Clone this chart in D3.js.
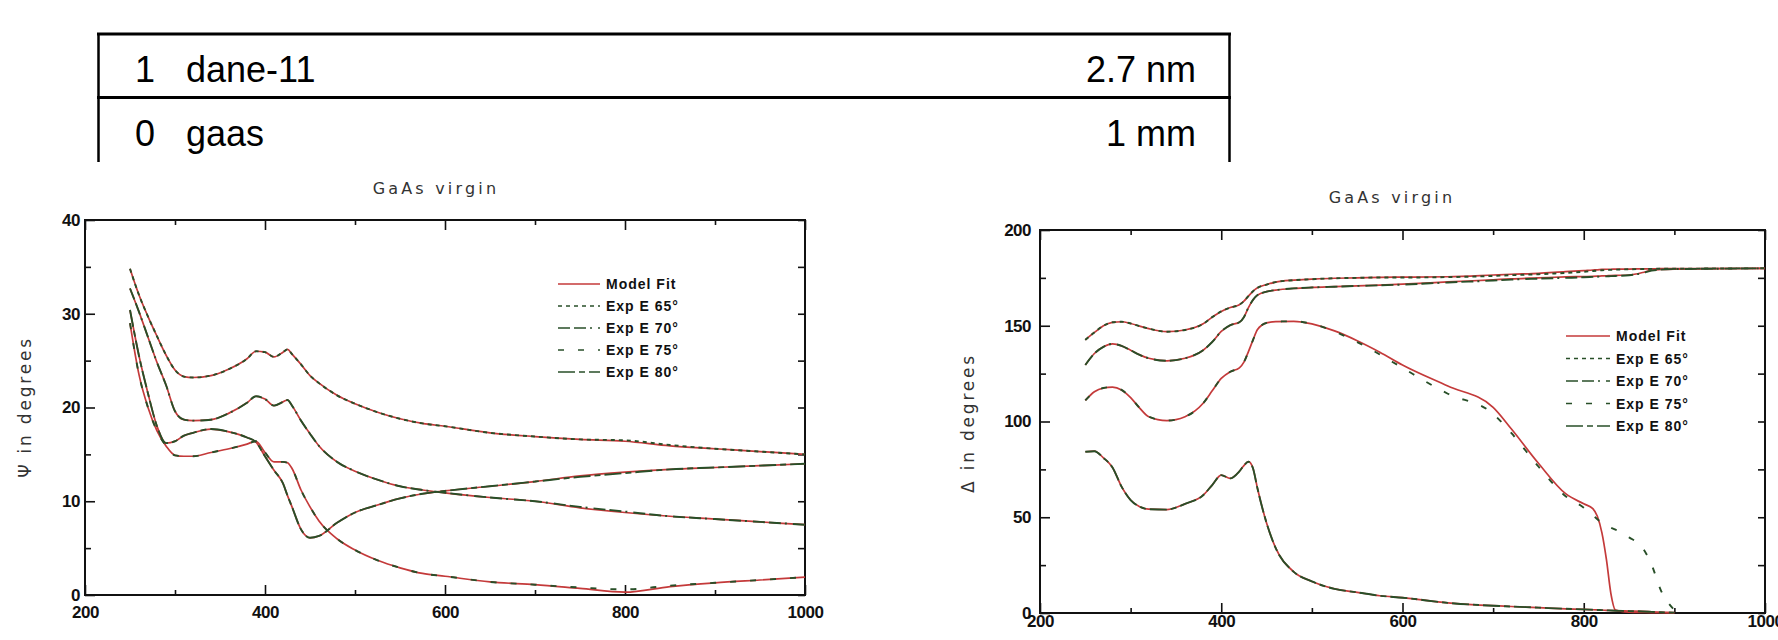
<!DOCTYPE html>
<html>
<head>
<meta charset="utf-8">
<script src="https://cdn.jsdelivr.net/npm/d3@7"></script>
<style>
  body { margin: 0; background: #fff; }
  svg { display: block; }
  .tick text { font-family: "Liberation Sans", Arial, sans-serif; font-weight: bold; font-size: 17px; fill: #111; letter-spacing: -0.5px; }
  .domain { display: none; }
  .tick line { stroke: #111; stroke-width: 1.6; }
  .plot-title, .axis-label { font-family: "DejaVu Sans", sans-serif; font-size: 16px; fill: #333; }
  .legend-text { font-family: "Liberation Sans", Arial, sans-serif; font-weight: bold; font-size: 14px; fill: #111; letter-spacing: 1px; }
  .layer-text { font-family: "Liberation Sans", Arial, sans-serif; font-size: 36px; fill: #000; }
</style>
</head>
<body>
<svg id="chart" width="1778" height="640"></svg>
<script>
// layer stack shown above the plots
const layerIndex = ['1', '0'];
const layerName = ['dane-11', 'gaas'];
const layerThickness = ['2.7 nm', '1 mm'];

// axis ticks
const xMajor = [200, 400, 600, 800, 1000];
const xMinor = [300, 500, 700, 900];
const psiTicks = [0, 10, 20, 30, 40];
const psiMinor = [5, 15, 25, 35];
const deltaTicks = [0, 50, 100, 150, 200];
const deltaMinor = [25, 75, 125, 175];

const legendLabels = ['Model Fit', 'Exp E 65°', 'Exp E 70°', 'Exp E 75°', 'Exp E 80°'];

// Psi (degrees) vs wavelength (nm)
const psiWavelength = [250, 260, 270, 280, 290, 300, 310, 320, 340, 360, 380, 390, 400, 410, 420, 425, 430, 440, 450, 460, 480, 500, 525, 550, 575, 600, 650, 700, 750, 800, 850, 900, 950, 1000];
const psiModel65 = [34.8, 32.0, 29.7, 27.6, 25.6, 24.0, 23.3, 23.2, 23.4, 24.1, 25.2, 26.0, 25.9, 25.4, 25.9, 26.2, 25.7, 24.6, 23.4, 22.6, 21.3, 20.4, 19.5, 18.8, 18.3, 18.0, 17.3, 16.9, 16.6, 16.4, 15.9, 15.6, 15.3, 15.0];
const psiModel70 = [32.7, 30.2, 27.5, 24.8, 22.4, 19.6, 18.7, 18.6, 18.7, 19.4, 20.5, 21.2, 20.9, 20.2, 20.6, 20.8, 20.2, 18.6, 17.2, 15.9, 14.2, 13.2, 12.3, 11.6, 11.2, 10.9, 10.4, 10.0, 9.3, 8.8, 8.4, 8.1, 7.8, 7.5];
const psiModel75 = [29.0, 23.5, 20.0, 17.5, 15.9, 14.9, 14.8, 14.8, 15.2, 15.6, 16.1, 16.4, 15.2, 14.2, 14.2, 14.1, 13.5, 11.2, 9.4, 7.9, 6.0, 4.8, 3.7, 2.9, 2.3, 2.0, 1.4, 1.1, 0.7, 0.3, 0.9, 1.3, 1.6, 1.9];
const psiModel80 = [30.4, 25.5, 21.5, 18.0, 16.2, 16.4, 17.0, 17.3, 17.7, 17.4, 16.8, 16.3, 14.8, 13.3, 11.9, 10.6, 9.4, 7.0, 6.1, 6.3, 7.7, 8.8, 9.6, 10.3, 10.8, 11.1, 11.6, 12.1, 12.7, 13.1, 13.4, 13.6, 13.8, 14.0];
const psiExp65 = [34.8, 32.0, 29.7, 27.6, 25.6, 24.0, 23.3, 23.2, 23.4, 24.1, 25.2, 26.0, 25.9, 25.4, 25.9, 26.2, 25.7, 24.6, 23.4, 22.6, 21.3, 20.4, 19.5, 18.8, 18.3, 18.0, 17.3, 16.9, 16.6, 16.5, 16.0, 15.6, 15.3, 15.0];
const psiExp70 = [32.7, 30.2, 27.5, 24.8, 22.4, 19.6, 18.7, 18.6, 18.7, 19.4, 20.5, 21.2, 20.9, 20.2, 20.6, 20.8, 20.2, 18.6, 17.2, 15.9, 14.2, 13.2, 12.3, 11.6, 11.2, 10.9, 10.4, 10.0, 9.4, 8.9, 8.4, 8.1, 7.8, 7.5];
const psiExp75 = [29.0, 23.5, 20.0, 17.5, 15.9, 14.9, 14.8, 14.8, 15.2, 15.6, 16.1, 16.4, 15.2, 14.2, 14.2, 14.1, 13.5, 11.2, 9.4, 7.9, 6.0, 4.8, 3.7, 2.9, 2.3, 2.0, 1.4, 1.1, 0.8, 0.6, 1.0, 1.3, 1.6, 1.9];
const psiExp80 = [30.4, 25.5, 21.5, 18.0, 16.2, 16.4, 17.0, 17.3, 17.7, 17.4, 16.8, 16.3, 14.8, 13.3, 11.9, 10.6, 9.4, 7.0, 6.1, 6.3, 7.7, 8.8, 9.6, 10.3, 10.8, 11.1, 11.6, 12.1, 12.6, 13.0, 13.4, 13.6, 13.8, 14.0];

// Delta (degrees) vs wavelength (nm)
const deltaWavelength = [250, 260, 270, 280, 290, 300, 310, 320, 340, 360, 380, 390, 400, 410, 420, 425, 430, 435, 440, 450, 460, 480, 500, 525, 550, 575, 600, 650, 700, 720, 750, 780, 800, 810, 815, 820, 825, 830, 835, 850, 865, 875, 885, 900, 950, 1000];
const deltaModel65 = [142.6, 146.5, 150.0, 151.8, 152.1, 151.2, 149.8, 148.5, 146.9, 147.8, 151.0, 154.5, 157.5, 159.5, 161.0, 162.8, 165.5, 168.0, 169.8, 171.5, 172.8, 173.8, 174.3, 174.8, 175.0, 175.3, 175.4, 175.6, 176.5, 176.9, 177.4, 178.3, 178.8, 179.1, 179.2, 179.4, 179.5, 179.5, 179.6, 179.6, 179.7, 179.7, 179.8, 179.8, 179.9, 180.0];
const deltaModel70 = [129.5, 135.5, 139.0, 140.5, 139.5, 137.2, 134.8, 133.0, 131.7, 133.0, 137.2, 141.5, 147.0, 150.3, 151.8, 154.5, 159.5, 163.5, 166.0, 167.8, 168.6, 169.5, 170.0, 170.4, 170.8, 171.2, 171.7, 172.9, 174.0, 174.5, 175.0, 175.5, 175.7, 175.8, 175.9, 176.0, 176.1, 176.2, 176.3, 176.5, 177.8, 179.1, 179.4, 179.6, 179.8, 180.0];
const deltaModel75 = [111.0, 115.5, 117.5, 118.0, 116.5, 112.5, 107.0, 102.5, 100.5, 102.5, 109.5, 116.0, 122.5, 126.0, 128.0, 131.0, 136.5, 142.5, 148.0, 151.5, 152.2, 152.3, 151.0, 147.3, 142.2, 136.2, 129.5, 118.5, 107.4, 96.2, 78.2, 62.3, 57.0, 54.5, 50.5, 42.0, 28.0, 10.0, 1.5, 0.5, 0.3, 0.2, 0.2, 0.1, null, null];
const deltaModel80 = [84.2, 84.5, 81.0, 76.0, 66.0, 59.0, 55.5, 54.2, 54.0, 57.0, 61.5, 66.8, 72.0, 70.3, 74.0, 77.0, 79.0, 75.6, 65.0, 47.0, 34.0, 21.5, 16.5, 12.6, 10.8, 9.0, 8.0, 5.3, 3.8, 3.4, 2.8, 2.2, 1.9, 1.7, 1.6, 1.5, 1.4, 1.3, 1.2, 1.0, 0.8, 0.6, 0.4, 0.2, null, null];
const deltaExp65 = [142.6, 146.5, 150.0, 151.8, 152.1, 151.2, 149.8, 148.5, 146.9, 147.8, 151.0, 154.5, 157.5, 159.5, 161.0, 162.8, 165.5, 168.0, 169.8, 171.5, 172.8, 173.8, 174.3, 174.8, 175.0, 175.2, 175.2, 175.4, 176.0, 176.4, 176.9, 177.6, 178.2, 178.6, 178.8, 179.0, 179.1, 179.2, 179.3, 179.5, 179.6, 179.7, 179.8, 179.8, 179.9, 180.0];
const deltaExp70 = [129.5, 135.5, 139.0, 140.5, 139.5, 137.2, 134.8, 133.0, 131.7, 133.0, 137.2, 141.5, 147.0, 150.3, 151.8, 154.5, 159.5, 163.5, 166.0, 167.8, 168.6, 169.5, 170.0, 170.4, 170.8, 171.1, 171.5, 172.6, 173.6, 174.1, 174.6, 175.0, 175.3, 175.5, 175.6, 175.7, 175.8, 175.9, 176.0, 176.4, 177.5, 178.8, 179.3, 179.6, 179.8, 180.0];
const deltaExp75 = [111.0, 115.5, 117.5, 118.0, 116.5, 112.5, 107.0, 102.5, 100.5, 102.5, 109.5, 116.0, 122.5, 126.0, 128.0, 131.0, 136.5, 142.5, 148.0, 151.5, 152.2, 152.3, 151.0, 147.0, 141.5, 135.0, 128.0, 114.5, 104.0, 94.0, 76.5, 61.0, 55.0, 51.0, 49.0, 47.0, 45.5, 44.5, 43.5, 39.5, 34.0, 25.0, 12.0, 1.5, null, null];
const deltaExp80 = [84.2, 84.5, 81.0, 76.0, 66.0, 59.0, 55.5, 54.2, 54.0, 57.0, 61.5, 66.8, 72.0, 70.3, 74.0, 77.0, 79.0, 75.6, 65.0, 47.0, 34.0, 21.5, 16.5, 12.6, 10.8, 9.0, 8.0, 5.3, 3.8, 3.4, 2.8, 2.2, 1.9, 1.7, 1.6, 1.5, 1.4, 1.3, 1.2, 1.0, 0.8, 0.6, 0.4, 0.2, null, null];

const modelColor = '#c43a3a';
const expColor = '#284f28';
const expDash = ['4,4', '12,4,12,4,2,6', '6,14', '17,4,6,4'];

const svg = d3.select('#chart');

// --- layer table ---
const table = svg.append('g');
table.append('line').attr('x1', 97).attr('x2', 1231).attr('y1', 34).attr('y2', 34).attr('stroke', '#000').attr('stroke-width', 3);
table.append('line').attr('x1', 97).attr('x2', 1231).attr('y1', 97.5).attr('y2', 97.5).attr('stroke', '#000').attr('stroke-width', 3);
[98.5, 1229.5].forEach(xv => {
    table.append('line').attr('x1', xv).attr('x2', xv).attr('y1', 33).attr('y2', 162).attr('stroke', '#000').attr('stroke-width', 2.5);
});
layerIndex.forEach((d, i) => {
    const base = 82 + i * 64;
    table.append('text').attr('class', 'layer-text').attr('x', 135).attr('y', base).text(d);
    table.append('text').attr('class', 'layer-text').attr('x', 186).attr('y', base).text(layerName[i]);
    table.append('text').attr('class', 'layer-text').attr('x', 1196).attr('y', base).attr('text-anchor', 'end').text(layerThickness[i]);
});

function drawPanel(p) {
    const x = d3.scaleLinear().domain([200, 1000]).range([p.left, p.right]);
    const y = d3.scaleLinear().domain([0, p.yMax]).range([p.bottom, p.top]);
    const g = svg.append('g');

    // axes: all ticks point inward
    g.append('g').attr('transform', `translate(0,${p.bottom})`)
        .call(d3.axisBottom(x).tickValues(xMajor).tickSize(-10).tickPadding(p.xPad).tickFormat(d3.format('d')));
    g.append('g').attr('transform', `translate(0,${p.bottom})`)
        .call(d3.axisBottom(x).tickValues(xMinor).tickSize(-5).tickFormat(''));
    g.append('g').attr('transform', `translate(0,${p.top})`)
        .call(d3.axisTop(x).tickValues(xMajor).tickSize(-10).tickFormat(''));
    g.append('g').attr('transform', `translate(0,${p.top})`)
        .call(d3.axisTop(x).tickValues(xMinor).tickSize(-5).tickFormat(''));
    g.append('g').attr('transform', `translate(${p.left},0)`)
        .call(d3.axisLeft(y).tickValues(p.yTicks).tickSize(-10).tickPadding(p.yPad).tickFormat(d3.format('d')));
    g.append('g').attr('transform', `translate(${p.left},0)`)
        .call(d3.axisLeft(y).tickValues(p.yMinor).tickSize(-6).tickFormat(''));
    g.append('g').attr('transform', `translate(${p.right},0)`)
        .call(d3.axisRight(y).tickValues(p.yTicks.concat(p.yMinor)).tickSize(-7).tickFormat(''));

    g.append('rect')
        .attr('x', p.left).attr('y', p.top)
        .attr('width', p.right - p.left).attr('height', p.bottom - p.top)
        .attr('fill', 'none').attr('stroke', '#111').attr('stroke-width', 2);

    const line = d3.line()
        .defined(d => d[1] !== null)
        .x(d => x(d[0]))
        .y(d => y(d[1]))
        .curve(d3.curveMonotoneX);

    p.model.forEach(vals => {
        g.append('path')
            .datum(p.wavelength.map((w, i) => [w, vals[i]]))
            .attr('fill', 'none').attr('stroke', modelColor).attr('stroke-width', 1.7)
            .attr('d', line);
    });
    p.exp.forEach((vals, k) => {
        g.append('path')
            .datum(p.wavelength.map((w, i) => [w, vals[i]]))
            .attr('fill', 'none').attr('stroke', expColor).attr('stroke-width', 1.9)
            .attr('stroke-dasharray', expDash[k])
            .attr('d', line);
    });

    // title and axis labels
    svg.append('text').attr('class', 'plot-title')
        .attr('x', p.titleX).attr('y', p.titleY).attr('text-anchor', 'middle')
        .attr('letter-spacing', '3.2px').text('GaAs virgin');
    svg.append('text').attr('class', 'axis-label')
        .attr('transform', `translate(${p.yLabelX},${p.yLabelY}) rotate(-90)`)
        .attr('text-anchor', 'middle').attr('letter-spacing', '2.8px')
        .style('font-size', '17px').text(p.yLabel);
    if (p.xLabelY) {
        svg.append('text').attr('class', 'axis-label')
            .attr('x', p.xLabelX).attr('y', p.xLabelY).attr('text-anchor', 'middle')
            .attr('letter-spacing', '2.5px').style('font-size', '17px').text('Wavelength (nm)');
    }

    // legend
    const lg = svg.append('g').attr('transform', `translate(${p.legendX},${p.legendY})`);
    legendLabels.forEach((label, i) => {
        const row = lg.append('g').attr('transform', `translate(0,${i * p.legendStep})`);
        row.append('line').attr('x1', 0).attr('x2', p.legendLen).attr('y1', 0).attr('y2', 0)
            .attr('stroke', i === 0 ? modelColor : expColor).attr('stroke-width', 1.7)
            .attr('stroke-dasharray', i === 0 ? null : expDash[i - 1]);
        row.append('text').attr('class', 'legend-text')
            .attr('x', p.legendLen + 6).attr('y', 5).text(label);
    });
}

drawPanel({
    left: 85, right: 805, top: 220, bottom: 595,
    yMax: 40, yTicks: psiTicks, yMinor: psiMinor, xPad: 11, yPad: 5,
    wavelength: psiWavelength,
    model: [psiModel65, psiModel70, psiModel75, psiModel80],
    exp: [psiExp65, psiExp70, psiExp75, psiExp80],
    titleX: 436, titleY: 194,
    yLabel: 'Ψ in degrees', yLabelX: 31, yLabelY: 407,
    xLabelX: 416, xLabelY: 654,
    legendX: 558, legendY: 284, legendStep: 22, legendLen: 42
});

drawPanel({
    left: 1040, right: 1765, top: 230, bottom: 613,
    yMax: 200, yTicks: deltaTicks, yMinor: deltaMinor, xPad: 2, yPad: 9,
    wavelength: deltaWavelength,
    model: [deltaModel65, deltaModel70, deltaModel75, deltaModel80],
    exp: [deltaExp65, deltaExp70, deltaExp75, deltaExp80],
    titleX: 1392, titleY: 203,
    yLabel: 'Δ in degrees', yLabelX: 974, yLabelY: 423,
    xLabelX: null, xLabelY: null,
    legendX: 1566, legendY: 336, legendStep: 22.5, legendLen: 44
});
</script>
</body>
</html>
